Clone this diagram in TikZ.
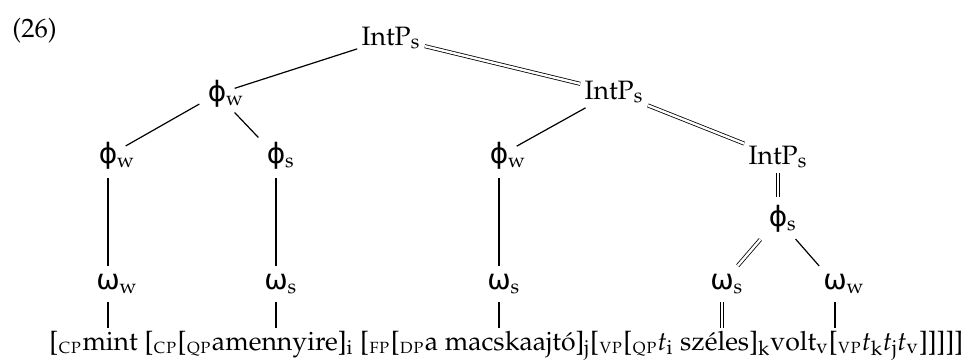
\documentclass[tikz,border=0pt]{standalone}
\usepackage[T1]{fontenc}
\usepackage{mathpazo}
\usepackage{tikz}
\font\greekfont="DejaVu Sans" at 14pt
\newcommand{\synlab}[1]{\textsubscript{\textsc{#1}}}
\newcommand{\phiof}[1]{{\greekfont ϕ}\rlap{\textsubscript{#1}}}
\newcommand{\omegaof}[1]{{\greekfont ω}\rlap{\textsubscript{#1}}}
\tikzset{
    treenode/.style = {inner sep=0pt, font=\fontsize{13.3}{16}\selectfont},
    int_node/.style = {treenode, anchor=base, inner sep=2pt},
    phon_node/.style = {treenode, inner sep=4pt},
    words/.style = {treenode, anchor=base west, inner sep=1pt},
    edge_line/.style = {line width=0.6pt},
    double_edge/.style = {double, double distance=1.2pt, line width=0.4pt}
}

\begin{document}
\begin{tikzpicture}
            [-, x=0.5pt, y=-0.5pt]
            \useasboundingbox (0,0) rectangle (966,360);

            \node [treenode, anchor=base west] (exnum) at (12,37) {(26)};

            % intonational phrases
            \node [int_node] (ip_top) at (391,45) {IntP\textsubscript{s}};
            \node [int_node] (ip_mid) at (614,99) {IntP\textsubscript{s}};
            \node [int_node] (ip_low) at (778,164) {IntP\textsubscript{s}};

            % phonological phrases
            \node [phon_node] (phi_top) at (217,94) {\phiof{w}};
            \node [phon_node] (phi_a) at (108,156) {\phiof{w}};
            \node [phon_node] (phi_b) at (276,156) {\phiof{s}};
            \node [phon_node] (phi_c) at (499,156) {\phiof{w}};
            \node [phon_node] (phi_d) at (778,219) {\phiof{s}};

            % phonological words
            \node [phon_node] (om_a) at (108,284) {\omegaof{w}};
            \node [phon_node] (om_b) at (276,284) {\omegaof{s}};
            \node [phon_node] (om_c) at (499,284) {\omegaof{s}};
            \node [phon_node] (om_d) at (722,284) {\omegaof{s}};
            \node [phon_node] (om_e) at (835,284) {\omegaof{w}};

            \node [words] (sentence) at (47,350) {[\synlab{cp}mint [\synlab{cp}[\synlab{qp}amennyire]\textsubscript{i} [\synlab{fp}[\synlab{dp}a macskaajt\'o]\textsubscript{j}[\synlab{vp}[\synlab{qp}\textit{t}\textsubscript{i} sz\'eles]\textsubscript{k}volt\textsubscript{v}[\synlab{vp}\textit{t}\textsubscript{k}\textit{t}\textsubscript{j}\textit{t}\textsubscript{v}]]]]]};

            \draw [edge_line] (ip_top) -- (phi_top);
            \draw [double_edge] (ip_top) -- (ip_mid);
            \draw [edge_line] (phi_top) -- (phi_a);
            \draw [edge_line] (phi_top) -- (phi_b);
            \draw [edge_line] (ip_mid) -- (phi_c);
            \draw [double_edge] (ip_mid) -- (ip_low);
            \draw [double_edge] (ip_low) -- (phi_d);

            \draw [edge_line] (phi_a) -- (om_a);
            \draw [edge_line] (phi_b) -- (om_b);
            \draw [edge_line] (phi_c) -- (om_c);
            \draw [double_edge] (phi_d) -- (om_d);
            \draw [edge_line] (phi_d) -- (om_e);

            \draw [edge_line] (om_a) -- (om_a |- sentence.north);
            \draw [edge_line] (om_b) -- (om_b |- sentence.north);
            \draw [edge_line] (om_c) -- (om_c |- sentence.north);
            \draw [double_edge] (om_d) -- (om_d |- sentence.north);
            \draw [edge_line] (om_e) -- (om_e |- sentence.north);
\end{tikzpicture}
\end{document}
